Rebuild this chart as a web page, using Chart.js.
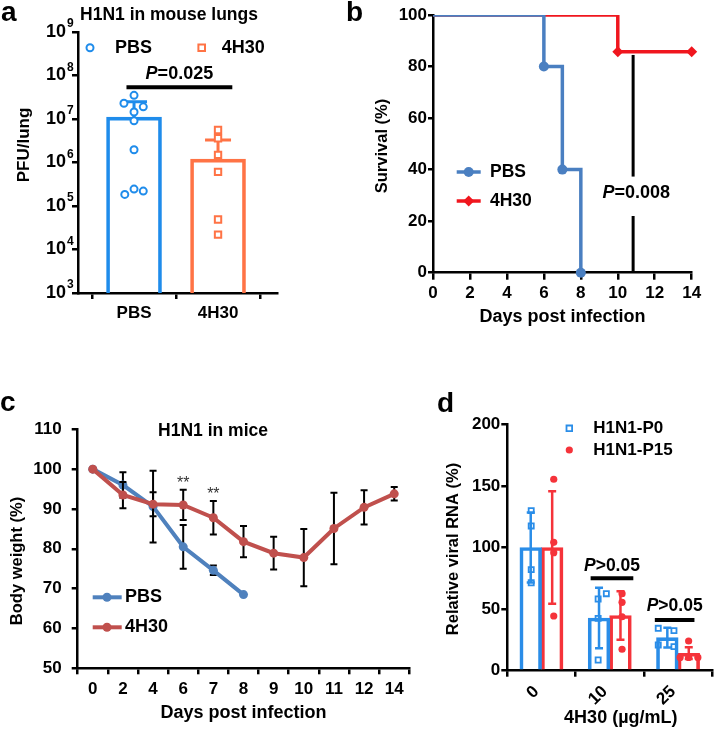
<!DOCTYPE html>
<html>
<head>
<meta charset="utf-8">
<script src="https://cdn.jsdelivr.net/npm/chart.js@4.4.1/dist/chart.umd.min.js"></script>
<style>
  body { margin: 0; background: #fff; width: 718px; height: 732px; position: relative; overflow: hidden; }
  .panel { position: absolute; }
  .letter { position: absolute; font: bold 28px "Liberation Sans", Arial, sans-serif; line-height: 28px; color: #000; z-index: 2; }
</style>
</head>
<body>
<div class="panel" style="left:0;top:0"><canvas id="chartA" width="360" height="330"></canvas></div>
<div class="panel" style="left:360px;top:0"><canvas id="chartB" width="358" height="330"></canvas></div>
<div class="panel" style="left:0;top:330px"><canvas id="chartC" width="422" height="402"></canvas></div>
<div class="panel" style="left:422px;top:330px"><canvas id="chartD" width="296" height="402"></canvas></div>
<div class="letter" style="left:1px;top:-2px">a</div>
<div class="letter" style="left:346px;top:-2px">b</div>
<div class="letter" style="left:0;top:388px">c</div>
<div class="letter" style="left:437px;top:389px">d</div>

<script>
// ---- panel a: PFU in lungs (log scale)
const groupsA = ['PBS', '4H30'];
const meanPFU = [1.1e7, 1.2e6];
const sdPFU = [1.4e7, 2.1e6];          // upper error only
const pbsPFU = [3.5e7, 2.3e7, 1.9e7, 1.45e7, 9.1e6, 1.96e6, 2.45e5, 2.2e5, 1.85e5];
const pbsJitter = [0, -0.12, 0.11, 0, 0, 0, 0, 0.11, -0.11];
const h4h30PFU = [5.6e6, 3.6e6, 1.5e6, 6.1e5, 4.9e4, 2.2e4];
const decadesA = [1e3, 1e4, 1e5, 1e6, 1e7, 1e8, 1e9];
const pLineA = [-0.09, 1.17, 5.4e7, 1.1e8];   // x from, x to, y of bar, y of text

// ---- panel b: survival
const survDaysPBS = [0, 6, 7, 8];
const survPBS = [100, 80, 40, 0];
const survDays4H30 = [0, 10, 14];
const surv4H30 = [100, 85.7, 85.7];
const pLineB = { x: 10.83, segs: [[84.5, 37.3], [22, 0]], textX: 11, textY: 31 };

// ---- panel c: body weight
const daysC = ['0', '2', '4', '6', '7', '8', '9', '10', '11', '12', '14'];
const pbsWeight = [100, 96.0, 90.6, 80.5, 74.6, 68.5, null, null, null, null, null];
const pbsWeightSd = [0, 3.2, 9.0, 5.5, 1.2, 0, 0, 0, 0, 0, 0];
const h4h30Weight = [100, 93.5, 91.2, 91.0, 87.8, 81.8, 78.9, 77.8, 85.1, 90.4, 93.8];
const h4h30WeightSd = [0, 3.3, 3.0, 3.8, 4.2, 3.9, 4.1, 7.2, 9.0, 4.3, 1.7];
const starDays = [3, 4];
const starLevels = [97.3, 94.6];

// ---- panel d: relative viral RNA
const dosesD = ['0', '10', '25'];
const meanP0 = [100, 42.8, 26.8];
const sdP0 = [28.5, 24.5, 8];
const meanP15 = [100, 44.8, 14.2];
const sdP15 = [45.7, 19.6, 4.8];
const ptsP0 = [[129.9, 117.5, 82, 71.4], [62.5, 58.2, 42.5, 8.7], [34.4, 32.5, 20.9, 19.5]];
const jitP0 = [[-0.15, -0.15, -0.15, -0.15], [-0.05, -0.17, -0.17, -0.17], [-0.29, -0.06, -0.29, -0.06]];
const ptsP15 = [[155.4, 104.2, 95.8, 44.4], [62.5, 55.5, 43.8, 17.4], [24.1, 10.8, 10.8, 10.8]];
const jitP15 = [[0.18, 0.18, 0.18, 0.18], [0.18, 0.18, 0.18, 0.18], [0.155, 0.03, 0.155, 0.29]];
const pLinesD = [[0.72, 1.345, 75, 85], [1.66, 2.24, 41.2, 52]];

const FONT = '"Liberation Sans", Arial, Helvetica, sans-serif';
Chart.defaults.font.family = FONT;
Chart.defaults.font.weight = 'bold';
Chart.defaults.font.size = 17;
Chart.defaults.color = '#000';
Chart.defaults.animation = false;
Chart.defaults.events = [];
Chart.defaults.plugins.legend.display = false;
Chart.defaults.plugins.tooltip.enabled = false;

const BLUE_A = '#1f8ceb', ORANGE_A = '#ff7345';
const BLUE_B = '#4a7fc1', RED_B = '#f0161e';
const BLUE_C = '#4f81bd', RED_C = '#c0504d';
const BLUE_D = '#2a8de8', RED_D = '#f5333a';
const BAR_SHIFT_D = 0.157;

// error bars, drawn just before the dataset they belong to
Chart.register({
  id: 'errorBars',
  beforeDatasetDraw(chart, args) {
    const ds = chart.data.datasets[args.index];
    if (!ds.errs) return;
    const yScale = chart.scales[args.meta.yAxisID];
    const ctx = chart.ctx;
    ctx.save();
    ctx.lineWidth = ds.errWidth || 2;
    args.meta.data.forEach((el, i) => {
      const raw = ds.data[i];
      const v = raw !== null && typeof raw === 'object' ? raw.y : raw;
      const e = ds.errs[i];
      if (v == null || !e) return;
      const hi = yScale.getPixelForValue(v + e);
      const lo = yScale.getPixelForValue(ds.errUp ? v : v - e);
      const h = ds.errCap / 2;
      ctx.strokeStyle = Array.isArray(ds.errColor) ? ds.errColor[i] : ds.errColor;
      ctx.beginPath();
      ctx.moveTo(el.x, lo); ctx.lineTo(el.x, hi);
      ctx.moveTo(el.x - h, hi); ctx.lineTo(el.x + h, hi);
      if (!ds.errUp) { ctx.moveTo(el.x - h, lo); ctx.lineTo(el.x + h, lo); }
      ctx.stroke();
    });
    ctx.restore();
  }
});

function label(ctx, s, x, y, size, opt = {}) {
  ctx.save();
  ctx.font = (opt.italic ? 'italic ' : '') + (opt.weight || 'bold') + ' ' + size + 'px ' + FONT;
  ctx.fillStyle = opt.color || '#000';
  ctx.textAlign = opt.align || 'center';
  ctx.textBaseline = 'middle';
  ctx.translate(x, y);
  if (opt.rotate) ctx.rotate(opt.rotate);
  ctx.fillText(s, 0, 0);
  ctx.restore();
}

// italic P followed by the rest, centred on cx
function pLabel(ctx, rest, cx, cy, size) {
  ctx.save();
  ctx.font = 'italic bold ' + size + 'px ' + FONT;
  const wp = ctx.measureText('P').width;
  ctx.font = 'bold ' + size + 'px ' + FONT;
  const wr = ctx.measureText(rest).width;
  ctx.restore();
  const x0 = cx - (wp + wr) / 2;
  label(ctx, 'P', x0, cy, size, { italic: true, align: 'left' });
  label(ctx, rest, x0 + wp, cy, size, { align: 'left' });
}

function seg(ctx, x0, y0, x1, y1, color, lw) {
  ctx.save();
  ctx.strokeStyle = color;
  ctx.lineWidth = lw;
  ctx.beginPath();
  ctx.moveTo(x0, y0);
  ctx.lineTo(x1, y1);
  ctx.stroke();
  ctx.restore();
}

function marker(ctx, style, x, y, r, color, filled, lw) {
  ctx.save();
  ctx.beginPath();
  if (style === 'circle') ctx.arc(x, y, r, 0, Math.PI * 2);
  else if (style === 'rect') ctx.rect(x - r, y - r, 2 * r, 2 * r);
  else { ctx.moveTo(x, y - r); ctx.lineTo(x + r, y); ctx.lineTo(x, y + r); ctx.lineTo(x - r, y); ctx.closePath(); }
  if (filled) { ctx.fillStyle = color; ctx.fill(); }
  else { ctx.strokeStyle = color; ctx.lineWidth = lw || 2; ctx.stroke(); }
  ctx.restore();
}

function axis(opts, tickLen, pad) {
  return Object.assign({}, opts, {
    grid: Object.assign({ drawOnChartArea: false, color: '#000', lineWidth: 2.5, tickLength: tickLen }, opts.grid),
    border: { color: '#000', width: 2.5 },
    ticks: Object.assign({ color: '#000', padding: pad, maxRotation: 0, autoSkip: false, font: { size: 17, weight: 'bold' } }, opts.ticks)
  });
}

// ---------------- a
new Chart(document.getElementById('chartA'), {
  type: 'bar',
  data: {
    datasets: [
      { type: 'scatter', data: pbsPFU.map((v, i) => ({ x: 0 + pbsJitter[i], y: v })), pointStyle: 'circle', pointRadius: 3.5,
        pointBorderWidth: 2, pointBorderColor: BLUE_A, pointBackgroundColor: '#fff', order: 0 },
      { type: 'scatter', data: h4h30PFU.map(v => ({ x: 1, y: v })), pointStyle: 'rect', pointRadius: 4.5,
        pointBorderWidth: 2, pointBorderColor: ORANGE_A, pointBackgroundColor: '#fff', order: 0 },
      { data: meanPFU.map((v, i) => ({ x: i, y: v })), borderColor: [BLUE_A, ORANGE_A], backgroundColor: 'rgba(255,255,255,0)',
        borderWidth: 3, barThickness: 55, errs: sdPFU, errUp: true, errColor: [BLUE_A, ORANGE_A], errCap: 26, errWidth: 3, order: 1 }
    ]
  },
  options: {
    responsive: false,
    layout: { padding: { left: 0, right: 83, top: 32, bottom: 0 } },
    scales: {
      x: axis({ type: 'linear', min: -0.667, max: 1.702, offset: false,
        afterBuildTicks: s => { s.ticks = groupsA.map((g, i) => ({ value: i })); },
        afterFit: s => { s.height = 37; },
        ticks: { callback: v => groupsA[v] } }, 6, 4),
      y: axis({ type: 'logarithmic', min: 1e3, max: 1e9,
        afterBuildTicks: s => { s.ticks = decadesA.map(v => ({ value: v })); },
        afterFit: s => { s.width = 78; },
        ticks: { display: false } }, 6, 2)
    }
  },
  plugins: [{
    id: 'decorA',
    afterDraw(chart) {
      const { ctx, scales: { x, y } } = chart;
      label(ctx, 'H1N1 in mouse lungs', 169, 15, 17.5);
      label(ctx, 'PFU/lung', 24, 145, 17, { rotate: -Math.PI / 2 });
      decadesA.forEach(v => {
        const py = y.getPixelForValue(v);
        label(ctx, '10', 66, py, 18, { align: 'right' });
        label(ctx, String(Math.round(Math.log10(v))), 67, py - 8, 12, { align: 'left' });
      });
      marker(ctx, 'circle', 90, 47.7, 3.5, BLUE_A, false, 2);
      label(ctx, 'PBS', 115, 47.7, 18, { align: 'left' });
      marker(ctx, 'rect', 201.7, 47.7, 3.3, ORANGE_A, false, 2);
      label(ctx, '4H30', 221.7, 47.7, 18, { align: 'left' });
      const yl = y.getPixelForValue(pLineA[2]);
      seg(ctx, x.getPixelForValue(pLineA[0]), yl, x.getPixelForValue(pLineA[1]), yl, '#000', 4);
      pLabel(ctx, '=0.025', x.getPixelForValue((pLineA[0] + pLineA[1]) / 2), y.getPixelForValue(pLineA[3]), 18);
    }
  }]
});

// ---------------- b
new Chart(document.getElementById('chartB'), {
  type: 'line',
  data: {
    datasets: [
      { data: survDaysPBS.map((d, i) => ({ x: d, y: survPBS[i] })), stepped: true, borderColor: BLUE_B, borderWidth: 3.5,
        pointStyle: 'circle', pointRadius: [0, 5, 5, 5], pointBackgroundColor: BLUE_B, pointBorderWidth: 0,
        clip: { left: 5, top: 0, right: 10, bottom: 10 } },
      { data: survDays4H30.map((d, i) => ({ x: d, y: surv4H30[i] })), stepped: true, borderColor: RED_B, borderWidth: 3.5,
        pointStyle: 'rectRot', pointRadius: [0, 5.5, 5.5], pointBackgroundColor: RED_B, pointBorderWidth: 0,
        clip: { left: 5, top: 0, right: 10, bottom: 10 } }
    ]
  },
  options: {
    responsive: false,
    layout: { padding: { left: 0, right: 26.3, top: 15, bottom: 0 } },
    scales: {
      x: axis({ type: 'linear', min: 0, max: 14, ticks: { stepSize: 2 }, afterFit: s => { s.height = 57.3; } }, 7, 3),
      y: axis({ min: 0, max: 100, ticks: { stepSize: 20 }, afterFit: s => { s.width = 73; } }, 5, 1)
    }
  },
  plugins: [{
    id: 'decorB',
    afterDraw(chart) {
      const { ctx, scales: { x, y } } = chart;
      label(ctx, 'Survival (%)', 22, 146, 16.5, { rotate: -Math.PI / 2 });
      label(ctx, 'Days post infection', 202.5, 317, 18);
      seg(ctx, 96.7, 172, 120.7, 172, BLUE_B, 3.5);
      marker(ctx, 'circle', 108.7, 172, 5, BLUE_B, true);
      label(ctx, 'PBS', 130, 172, 17.5, { align: 'left' });
      seg(ctx, 96.7, 201, 120.7, 201, RED_B, 3.5);
      marker(ctx, 'diamond', 108.7, 201, 5.5, RED_B, true);
      label(ctx, '4H30', 130, 201, 17.5, { align: 'left' });
      const xp = x.getPixelForValue(pLineB.x);
      pLineB.segs.forEach(s => seg(ctx, xp, y.getPixelForValue(s[0]), xp, y.getPixelForValue(s[1]), '#000', 3));
      pLabel(ctx, '=0.008', x.getPixelForValue(pLineB.textX), y.getPixelForValue(pLineB.textY), 18);
    }
  }]
});

// ---------------- c
new Chart(document.getElementById('chartC'), {
  type: 'line',
  data: {
    labels: daysC,
    datasets: [
      { data: h4h30Weight, borderColor: RED_C, borderWidth: 4, pointRadius: 4.5, pointBackgroundColor: RED_C, pointBorderWidth: 0,
        errs: h4h30WeightSd, errColor: '#000', errCap: 7, errWidth: 2, order: 1 },
      { data: pbsWeight, borderColor: BLUE_C, borderWidth: 4, pointRadius: 4.5, pointBackgroundColor: BLUE_C, pointBorderWidth: 0,
        errs: pbsWeightSd, errColor: '#000', errCap: 7, errWidth: 2, order: 2 }
    ]
  },
  options: {
    responsive: false,
    layout: { padding: { left: 0, right: 12.7, top: 99.3, bottom: 0 } },
    scales: {
      x: axis({ type: 'category', offset: true, grid: { offset: true }, afterFit: s => { s.height = 63.7; } }, 6, 4.5),
      y: axis({ min: 50, max: 110, ticks: { stepSize: 10 }, afterFit: s => { s.width = 77.7; } }, 6, 10)
    }
  },
  plugins: [{
    id: 'decorC',
    afterDraw(chart) {
      const { ctx, scales: { x, y } } = chart;
      label(ctx, 'H1N1 in mice', 213, 100.7, 17.5);
      label(ctx, 'Body weight (%)', 17, 231, 16.5, { rotate: -Math.PI / 2 });
      label(ctx, 'Days post infection', 243.5, 383.3, 18);
      starDays.forEach((d, i) => label(ctx, '**', x.getPixelForValue(d), y.getPixelForValue(starLevels[i]) + 3.5, 16, { weight: 'normal', color: '#333' }));
      seg(ctx, 92.7, 267.3, 121.7, 267.3, BLUE_C, 4);
      marker(ctx, 'circle', 107, 267.3, 4.5, BLUE_C, true);
      label(ctx, 'PBS', 125, 267.3, 18, { align: 'left' });
      seg(ctx, 92.7, 297.3, 121.7, 297.3, RED_C, 4);
      marker(ctx, 'circle', 107, 297.3, 4.5, RED_C, true);
      label(ctx, '4H30', 125, 297.3, 18, { align: 'left' });
    }
  }]
});

// ---------------- d
const flat = (pts, jit) => pts.flatMap((g, i) => g.map((v, k) => ({ x: i + jit[i][k], y: v })));
new Chart(document.getElementById('chartD'), {
  type: 'bar',
  data: {
    datasets: [
      { type: 'scatter', data: flat(ptsP0, jitP0), pointStyle: 'rect', pointRadius: 3.6, pointBorderWidth: 1.8,
        pointBorderColor: BLUE_D, pointBackgroundColor: 'rgba(255,255,255,0)', order: 1 },
      { type: 'scatter', data: flat(ptsP15, jitP15), pointStyle: 'circle', pointRadius: 3.6, pointBorderWidth: 0,
        pointBackgroundColor: RED_D, order: 1 },
      { data: meanP0.map((v, i) => ({ x: i - BAR_SHIFT_D, y: v })), borderColor: BLUE_D, backgroundColor: 'rgba(255,255,255,0)',
        borderWidth: 3, barThickness: 21.7, grouped: false, errs: sdP0, errColor: BLUE_D, errCap: 8, errWidth: 2.5, order: 2 },
      { data: meanP15.map((v, i) => ({ x: i + BAR_SHIFT_D, y: v })), borderColor: RED_D, backgroundColor: 'rgba(255,255,255,0)',
        borderWidth: 3, barThickness: 21.7, grouped: false, errs: sdP15, errColor: RED_D, errCap: 8, errWidth: 2.5, order: 2 }
    ]
  },
  options: {
    responsive: false,
    layout: { padding: { left: 0, right: 3, top: 94.3, bottom: 0 } },
    scales: {
      x: axis({ type: 'linear', min: -0.5, max: 2.5, offset: false,
        afterBuildTicks: s => { s.ticks = dosesD.map((d, i) => ({ value: i })); },
        afterFit: s => { s.height = 61.3; },
        ticks: { callback: v => dosesD[v], minRotation: 45, maxRotation: 45, labelOffset: -5 } }, 6, 5),
      y: axis({ min: 0, max: 200, ticks: { stepSize: 50 }, afterFit: s => { s.width = 85.3; } }, 6, 1)
    }
  },
  plugins: [{
    id: 'decorD',
    afterDraw(chart) {
      const { ctx, scales: { x, y } } = chart;
      label(ctx, 'Relative viral RNA (%)', 31.3, 219, 16.5, { rotate: -Math.PI / 2 });
      label(ctx, '4H30 (µg/mL)', 198.8, 388.3, 18);
      marker(ctx, 'rect', 147.3, 98.3, 2.8, BLUE_D, false, 1.8);
      label(ctx, 'H1N1-P0', 171.3, 98.3, 17, { align: 'left' });
      marker(ctx, 'circle', 147.3, 120, 3.6, RED_D, true);
      label(ctx, 'H1N1-P15', 171.3, 120, 17, { align: 'left' });
      pLinesD.forEach(p => {
        const yl = y.getPixelForValue(p[2]);
        seg(ctx, x.getPixelForValue(p[0]), yl, x.getPixelForValue(p[1]), yl, '#000', 4);
        pLabel(ctx, '>0.05', x.getPixelForValue((p[0] + p[1]) / 2), y.getPixelForValue(p[3]), 17.5);
      });
    }
  }]
});
</script>
</body>
</html>
